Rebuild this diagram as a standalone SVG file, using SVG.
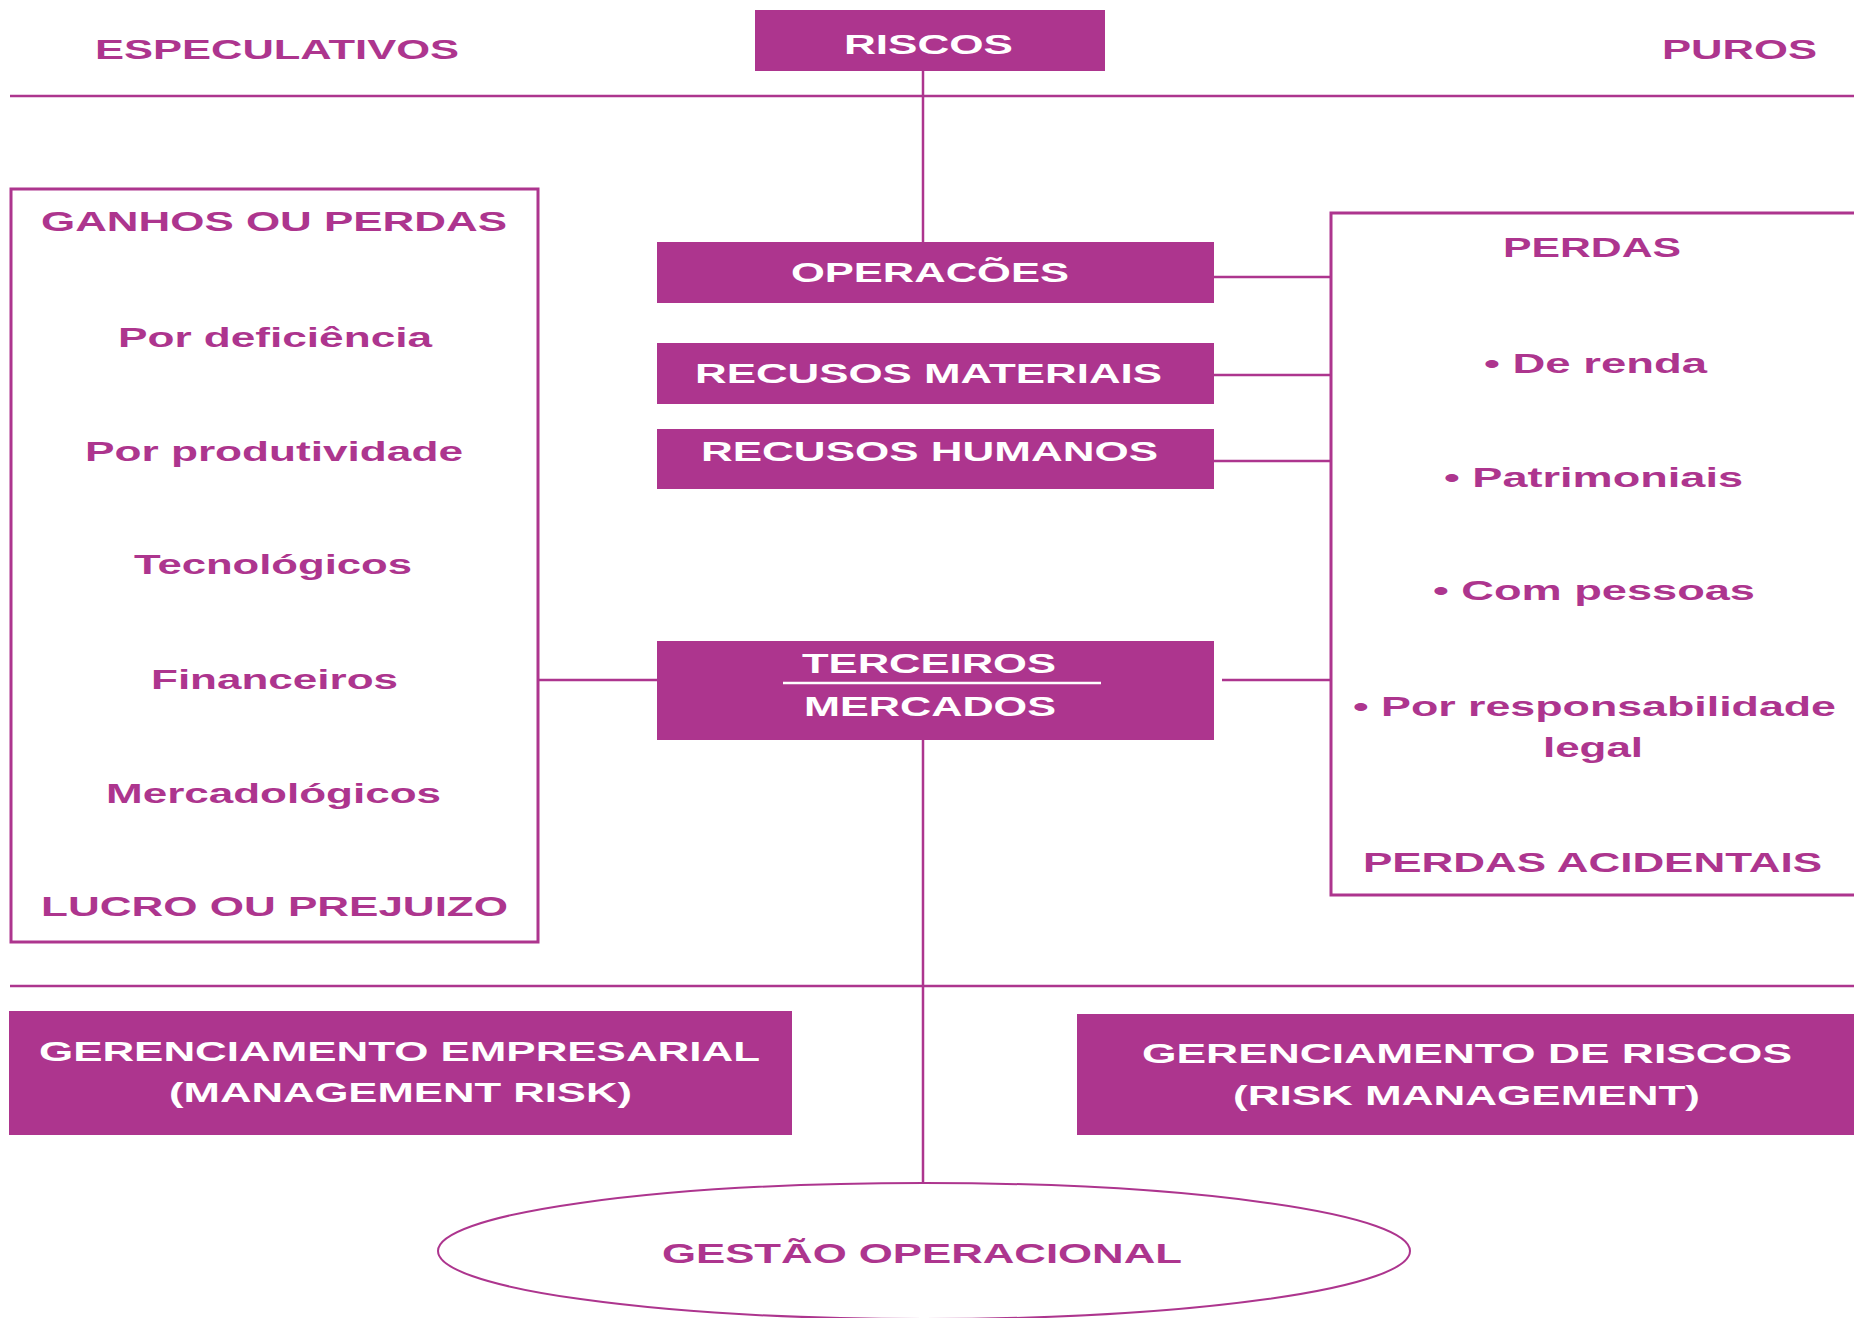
<svg xmlns="http://www.w3.org/2000/svg" width="1854" height="1318" viewBox="0 0 1854 1318">
  <style>
    .box { fill: #AD358E; }
    .frame { fill: none; stroke: #AD358E; stroke-width: 3; }
    .wire { fill: none; stroke: #AD358E; stroke-width: 2.5; }
    .lbl { font-family: "Liberation Sans", Arial, sans-serif; font-weight: bold; font-size: 27px; }
    .pink { fill: #AD358E; }
    .white { fill: #FFFFFF; }
  </style>
  <rect x="0" y="0" width="1854" height="1318" fill="#FFFFFF"/>

  <!-- connectors and dividers -->
  <g id="connectors">
    <line class="wire" x1="10" y1="96" x2="1854" y2="96"/>
    <line class="wire" x1="10" y1="986" x2="1854" y2="986"/>
    <line class="wire" x1="923" y1="71" x2="923" y2="242"/>
    <line class="wire" x1="923" y1="740" x2="923" y2="1183"/>
    <line class="wire" x1="1214" y1="277" x2="1331" y2="277"/>
    <line class="wire" x1="1214" y1="375" x2="1331" y2="375"/>
    <line class="wire" x1="1214" y1="461" x2="1331" y2="461"/>
    <line class="wire" x1="538" y1="680" x2="657" y2="680"/>
    <line class="wire" x1="1222" y1="680" x2="1331" y2="680"/>
  </g>

  <!-- headings -->
  <g id="especulativos">
    <text class="lbl pink" x="95" y="59" textLength="364" lengthAdjust="spacingAndGlyphs">ESPECULATIVOS</text>
  </g>
  <g id="puros">
    <text class="lbl pink" x="1662" y="59" textLength="155" lengthAdjust="spacingAndGlyphs">PUROS</text>
  </g>

  <g id="riscos">
    <rect class="box" x="755" y="10" width="350" height="61"/>
    <text class="lbl white" x="844" y="54" textLength="169" lengthAdjust="spacingAndGlyphs">RISCOS</text>
  </g>

  <!-- speculative column -->
  <g id="ganhos-perdas">
    <rect class="frame" x="11" y="189" width="527" height="753"/>
    <text class="lbl pink" x="41" y="231" textLength="466" lengthAdjust="spacingAndGlyphs">GANHOS OU PERDAS</text>
    <text class="lbl pink" x="118" y="347" textLength="314" lengthAdjust="spacingAndGlyphs">Por deficiência</text>
    <text class="lbl pink" x="85" y="461" textLength="378" lengthAdjust="spacingAndGlyphs">Por produtividade</text>
    <text class="lbl pink" x="134" y="574" textLength="278" lengthAdjust="spacingAndGlyphs">Tecnológicos</text>
    <text class="lbl pink" x="151" y="689" textLength="247" lengthAdjust="spacingAndGlyphs">Financeiros</text>
    <text class="lbl pink" x="106" y="803" textLength="335" lengthAdjust="spacingAndGlyphs">Mercadológicos</text>
    <text class="lbl pink" x="41" y="916" textLength="467" lengthAdjust="spacingAndGlyphs">LUCRO OU PREJUIZO</text>
  </g>

  <!-- central sources of risk -->
  <g id="operacoes">
    <rect class="box" x="657" y="242" width="557" height="61"/>
    <text class="lbl white" x="791" y="282" textLength="278" lengthAdjust="spacingAndGlyphs">OPERACÕES</text>
  </g>
  <g id="recursos-materiais">
    <rect class="box" x="657" y="343" width="557" height="61"/>
    <text class="lbl white" x="695" y="383" textLength="467" lengthAdjust="spacingAndGlyphs">RECUSOS MATERIAIS</text>
  </g>
  <g id="recursos-humanos">
    <rect class="box" x="657" y="429" width="557" height="60"/>
    <text class="lbl white" x="701" y="461" textLength="457" lengthAdjust="spacingAndGlyphs">RECUSOS HUMANOS</text>
  </g>
  <g id="terceiros-mercados">
    <rect class="box" x="657" y="641" width="557" height="99"/>
    <text class="lbl white" x="802" y="673" textLength="254" lengthAdjust="spacingAndGlyphs">TERCEIROS</text>
    <line x1="783" y1="683" x2="1101" y2="683" stroke="#FFFFFF" stroke-width="2.5"/>
    <text class="lbl white" x="804" y="716" textLength="252" lengthAdjust="spacingAndGlyphs">MERCADOS</text>
  </g>

  <!-- pure risk column -->
  <g id="perdas">
    <path class="frame" d="M1856 213 H1331 V895 H1856"/>
    <text class="lbl pink" x="1503" y="257" textLength="178" lengthAdjust="spacingAndGlyphs">PERDAS</text>
    <text class="lbl pink" x="1484" y="373" textLength="223" lengthAdjust="spacingAndGlyphs">• De renda</text>
    <text class="lbl pink" x="1444" y="487" textLength="299" lengthAdjust="spacingAndGlyphs">• Patrimoniais</text>
    <text class="lbl pink" x="1433" y="600" textLength="322" lengthAdjust="spacingAndGlyphs">• Com pessoas</text>
    <text class="lbl pink" x="1353" y="716" textLength="483" lengthAdjust="spacingAndGlyphs">• Por responsabilidade</text>
    <text class="lbl pink" x="1543" y="757" textLength="100" lengthAdjust="spacingAndGlyphs">legal</text>
    <text class="lbl pink" x="1363" y="872" textLength="459" lengthAdjust="spacingAndGlyphs">PERDAS ACIDENTAIS</text>
  </g>

  <!-- management approaches -->
  <g id="gerenciamento-empresarial">
    <rect class="box" x="9" y="1011" width="783" height="124"/>
    <text class="lbl white" x="39" y="1061" textLength="721" lengthAdjust="spacingAndGlyphs">GERENCIAMENTO EMPRESARIAL</text>
    <text class="lbl white" x="169" y="1102" textLength="463" lengthAdjust="spacingAndGlyphs">(MANAGEMENT RISK)</text>
  </g>
  <g id="gerenciamento-riscos">
    <rect class="box" x="1077" y="1014" width="777" height="121"/>
    <text class="lbl white" x="1142" y="1063" textLength="650" lengthAdjust="spacingAndGlyphs">GERENCIAMENTO DE RISCOS</text>
    <text class="lbl white" x="1233" y="1105" textLength="467" lengthAdjust="spacingAndGlyphs">(RISK MANAGEMENT)</text>
  </g>

  <g id="gestao-operacional">
    <ellipse cx="924" cy="1251" rx="486" ry="68" fill="none" stroke="#AD358E" stroke-width="2"/>
    <text class="lbl pink" x="662" y="1263" textLength="520" lengthAdjust="spacingAndGlyphs">GESTÃO OPERACIONAL</text>
  </g>
</svg>
